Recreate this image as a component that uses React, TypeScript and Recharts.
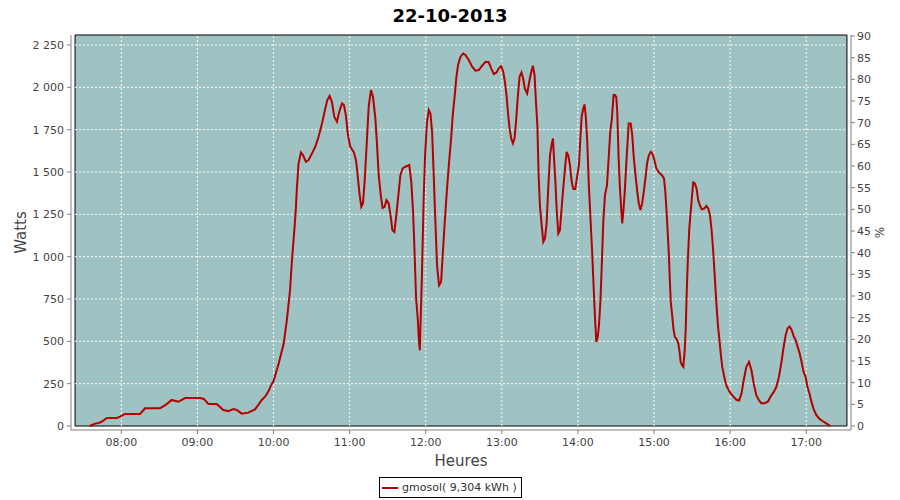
import React from "react";
import { LineChart, Line, XAxis, YAxis, ReferenceArea, ReferenceLine, Label } from "recharts";

// minutes since midnight
const minutes = [
  455, 459.3, 462, 464.5, 468.5, 476.4, 479, 482.9, 494.7, 498.7, 510.5, 515, 519.7, 524.9, 530.2, 542, 545, 548.6,
  555.2, 560.4, 564.4, 568.3, 571, 574.9, 580.1, 585.4, 588, 590.7, 593.3, 595.9, 598, 600, 604, 608, 610.5, 613,
  614.5, 616.3, 617.6, 618.4, 619.7, 621.6, 623.2, 625.5, 627.6, 630.3, 632.9, 635.5, 638.2, 640.8, 642.4, 644.2,
  646, 647.9, 650, 651.8, 654, 655.5, 657, 658.7, 660.5, 663.2, 665, 666.3, 667.6, 669.2, 670.5, 671.8, 673.4, 675,
  676.8, 678.4, 680.3, 681.6, 682.9, 684.7, 686, 687.6, 689, 690.8, 692.6, 693.7, 695.3, 696.8, 698.7, 700, 701.8,
  704, 707, 708.6, 710, 711, 712.4, 713.7, 714.5, 715.3, 716, 717, 718.4, 719.5, 721, 722.4, 723.7, 725, 726.3,
  727.6, 728.9, 730.5, 732.1, 733.7, 735, 736.8, 738.4, 740, 741.3, 742.9, 744.2, 745.5, 747.4, 749.5, 751.3, 753.9,
  756.6, 759.2, 761.8, 764.5, 767.1, 769.7, 771.6, 773.7, 775.8, 777.6, 779.5, 781.1, 782.4, 783.7, 785, 786.1,
  787.4, 788.7, 790, 791.3, 792.7, 794, 795.5, 796.8, 798.1, 800, 801.6, 803.2, 804.5, 805.8, 806.9, 808, 809, 810,
  811.4, 812.7, 814, 815.3, 816.7, 818, 819.2, 820.3, 821, 822.1, 823.2, 824.5, 825.8, 827.1, 828.4, 829.8, 831.1,
  832.4, 833.7, 835.1, 836.4, 837.9, 839.5, 840.8, 841.9, 842.9, 844.2, 845.2, 846.2, 847.3, 848.6, 849.9, 851.2,
  852.5, 853.5, 854.5, 855.6, 856.6, 857.7, 858.7, 860, 861.3, 862.9, 864.2, 865.5, 866.8, 868.1, 869.1, 870.2, 871,
  872, 873, 874.1, 874.9, 875.8, 876.9, 877.9, 879, 880, 881.6, 882.8, 884.1, 885.4, 886.8, 888, 889.3, 890.6, 891.9,
  893.2, 894.5, 895.8, 897.4, 898.8, 900.3, 901.8, 903.9, 906.2, 907.8, 908.8, 909.9, 910.9, 911.7, 912.5, 913.2,
  914.3, 915.3, 916.4, 917.9, 919.2, 920.3, 921, 922.1, 923.1, 924.2, 925, 925.7, 926.7, 927.8, 928.8, 929.8, 930.9,
  932.2, 933.5, 934.8, 936.1, 937.6, 939.5, 941.3, 942.8, 944.1, 945.4, 946.5, 947.5, 948.6, 949.6, 950.6, 951.7,
  952.7, 953.8, 955.1, 956.4, 957.6, 959.7, 962.4, 965, 967.1, 968.9, 970.7, 972.8, 974.9, 976.8, 978.6, 980.7,
  982.8, 984.6, 987.2, 989.9, 992, 994.3, 996.4, 998.5, 1000.3, 1002.2, 1003.8, 1005.3, 1006.9, 1008.5, 1010,
  1011.6, 1013.2, 1014.8, 1016.3, 1017.9, 1019.5, 1021, 1022.6, 1024.2, 1025.8, 1027.9, 1030.5, 1033.1, 1035.8, 1039,
];

const watts = [
  0, 14, 18, 25, 47, 47, 55, 71, 71, 105, 105, 125, 154, 143, 165, 165, 160, 130,
  130, 94, 88, 100, 95, 73, 79, 98, 125, 154, 173, 203, 240, 265, 368, 487, 625, 802,
  979, 1146, 1284, 1403, 1550, 1615, 1600, 1560, 1570, 1610, 1649, 1708, 1787, 1875, 1925, 1950,
  1915, 1826, 1797, 1856, 1905, 1895, 1836, 1718, 1649, 1619, 1570, 1481, 1383, 1294, 1314, 1442, 1659, 1885,
  1984, 1944, 1816, 1659, 1481, 1353, 1288, 1294, 1334, 1314, 1225, 1156, 1146, 1245, 1383, 1481, 1521,
  1531, 1541, 1442, 1265, 1068, 753, 634, 516, 447, 634, 890, 1350, 1600, 1797, 1866, 1846, 1738, 1481,
  1206, 950, 831, 851, 1048, 1206, 1403, 1560, 1698, 1836, 1954, 2063, 2132, 2181, 2200, 2191, 2161,
  2122, 2098, 2102, 2128, 2151, 2148, 2112, 2078, 2088, 2112, 2125, 2092, 2033, 1954, 1836, 1757,
  1698, 1669, 1698, 1806, 1954, 2063, 2088, 2053, 1994, 1964, 2033, 2092, 2128, 2072, 1915, 1777, 1481, 1304,
  1186, 1087, 1107, 1196, 1422, 1600, 1659, 1698, 1600, 1462, 1284, 1137, 1156, 1284, 1403, 1521, 1619,
  1596, 1541, 1442, 1399, 1399, 1481, 1541, 1698, 1826, 1875, 1899, 1826, 1688, 1422, 1225, 1028,
  802, 634, 496, 526, 595, 733, 930, 1206, 1363, 1422, 1580, 1738, 1816, 1954, 1954, 1944, 1856,
  1600, 1422, 1284, 1196, 1265, 1383, 1521, 1659, 1787, 1787, 1718, 1580, 1481, 1383, 1314, 1275, 1314, 1383,
  1462, 1550, 1596, 1619, 1609, 1570, 1521, 1497, 1481, 1462, 1393, 1265, 1127, 1009, 851, 733,
  654, 575, 526, 512, 487, 428, 378, 359, 349, 447, 575, 772, 989, 1166, 1255, 1344, 1438,
  1432, 1403, 1334, 1304, 1280, 1284, 1300, 1284, 1245, 1156, 1048, 930, 792, 674, 575, 500,
  420, 349, 300, 255, 230, 200, 175, 155, 151, 190, 270, 349, 379, 329, 250, 181,
  151, 135, 135, 145, 175, 200, 230, 290, 369, 468, 538, 577, 587, 567, 532,
  508, 468, 429, 379, 319, 290, 230, 190, 141, 101, 65, 42, 28, 16, 0,
];

const hourTicks = [480, 540, 600, 660, 720, 780, 840, 900, 960, 1020];
const hourLabels = ["08:00", "09:00", "10:00", "11:00", "12:00", "13:00", "14:00", "15:00", "16:00", "17:00"];
const wattTicks = [0, 250, 500, 750, 1000, 1250, 1500, 1750, 2000, 2250];
const pctTicks = [0, 5, 10, 15, 20, 25, 30, 35, 40, 45, 50, 55, 60, 65, 70, 75, 80, 85, 90];

const data = minutes.map((t, i) => ({ t, w: watts[i] }));

// axes sit 4px off the plot, like the original
const X_DOMAIN = [440.3, 1055.3];
const PLOT_X = [443.5, 1052.1];
const W_DOMAIN = [-23.6, 2309];
const W_TOP = 2309;
const PCT_DOMAIN = [-0.92, 90.23];

const C = {
  plot: "#9ec3c2",
  line: "#b40000",
  axis: "#808080",
  tick: "#444444",
  font: "'DejaVu Sans', sans-serif",
};

const tickStyle = { fill: C.tick, fontSize: 11, fontFamily: C.font };

const fmtWatts = (v: number) =>
  v >= 1000 ? `${Math.floor(v / 1000)} ${String(v % 1000).padStart(3, "0")}` : String(v);
const fmtHour = (v: number) => hourLabels[hourTicks.indexOf(v)] ?? "";

const axisLabelStyle = { fill: C.tick, fontSize: 15, fontFamily: C.font };

const WattsLabel = ({ viewBox }: any) => {
  const cx = viewBox.x + 21;
  const cy = viewBox.y + viewBox.height / 2;
  return (
    <text x={cx} y={cy} transform={`rotate(-90 ${cx} ${cy})`} textAnchor="middle" dominantBaseline="central" {...axisLabelStyle}>
      Watts
    </text>
  );
};

const PctLabel = ({ viewBox }: any) => {
  const cx = viewBox.x + 29;
  const cy = viewBox.y + viewBox.height / 2;
  return (
    <text x={cx} y={cy} transform={`rotate(-90 ${cx} ${cy})`} textAnchor="middle" dominantBaseline="central" {...axisLabelStyle} fontSize={12}>
      %
    </text>
  );
};

const HeuresLabel = ({ viewBox }: any) => (
  <text x={viewBox.x + viewBox.width / 2} y={viewBox.y + 36} textAnchor="middle" {...axisLabelStyle}>
    Heures
  </text>
);

export default function App() {
  return (
    <div style={{ position: "absolute", left: 0, top: 0, width: 900, height: 500, background: "#fff", fontFamily: C.font }}>
      <div
        style={{
          position: "absolute",
          top: 5,
          left: 0,
          width: 900,
          textAlign: "center",
          fontSize: 18,
          fontWeight: "bold",
          lineHeight: "21px",
          color: "#000",
        }}
      >
        22-10-2013
      </div>
      <LineChart width={900} height={500} data={data} margin={{ top: 35, right: 0, bottom: 0, left: 0 }}>
        <XAxis
          dataKey="t"
          type="number"
          domain={X_DOMAIN}
          allowDataOverflow
          ticks={hourTicks}
          tickFormatter={fmtHour}
          height={70}
          tick={tickStyle}
          tickSize={4}
          tickMargin={4}
          stroke={C.axis}
        >
          <Label content={HeuresLabel} />
        </XAxis>
        <YAxis
          yAxisId="w"
          type="number"
          domain={W_DOMAIN}
          allowDataOverflow
          ticks={wattTicks}
          tickFormatter={fmtWatts}
          width={71}
          tick={tickStyle}
          tickSize={4}
          tickMargin={3}
          stroke={C.axis}
        >
          <Label content={WattsLabel} />
        </YAxis>
        <YAxis
          yAxisId="pct"
          orientation="right"
          type="number"
          domain={PCT_DOMAIN}
          allowDataOverflow
          ticks={pctTicks}
          width={49}
          tick={tickStyle}
          tickSize={4}
          tickMargin={2}
          stroke={C.axis}
        >
          <Label content={PctLabel} />
        </YAxis>
        <ReferenceArea
          yAxisId="w"
          x1={PLOT_X[0]}
          x2={PLOT_X[1]}
          y1={0}
          y2={W_TOP}
          fill={C.plot}
          fillOpacity={1}
          stroke="none"
        />
        {hourTicks.map((h) => (
          <ReferenceLine
            key={`x${h}`}
            yAxisId="w"
            segment={[{ x: h, y: 0 }, { x: h, y: W_TOP }]}
            stroke="#fff"
            strokeDasharray="2 2"
          />
        ))}
        {wattTicks.slice(1).map((v) => (
          <ReferenceLine
            key={`y${v}`}
            yAxisId="w"
            segment={[{ x: PLOT_X[0], y: v }, { x: PLOT_X[1], y: v }]}
            stroke="#fff"
            strokeDasharray="2 2"
          />
        ))}
        <ReferenceArea
          yAxisId="w"
          x1={PLOT_X[0]}
          x2={PLOT_X[1]}
          y1={0}
          y2={W_TOP}
          fill="none"
          stroke="#000"
          strokeWidth={1}
        />
        <Line
          yAxisId="w"
          dataKey="w"
          type="linear"
          stroke={C.line}
          strokeWidth={2}
          dot={false}
          activeDot={false}
          isAnimationActive={false}
        />
      </LineChart>
      <div
        style={{
          position: "absolute",
          left: 379,
          top: 477,
          width: 143,
          height: 21,
          boxSizing: "border-box",
          border: "1px solid #000",
          display: "flex",
          alignItems: "center",
          fontSize: 11,
          color: "#333",
          whiteSpace: "nowrap",
        }}
      >
        <span style={{ display: "inline-block", width: 16, height: 2, background: C.line, marginLeft: 2, marginRight: 4 }} />
        gmosol( 9,304 kWh )
      </div>
    </div>
  );
}
